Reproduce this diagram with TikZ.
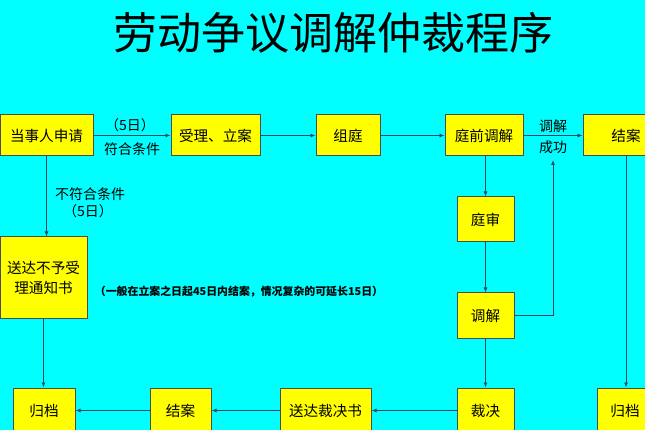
\documentclass[tikz,border=0pt]{standalone}
\usepackage{fontspec}
\setmainfont{Noto Sans CJK SC}
\usetikzlibrary{arrows.meta}
\definecolor{bgcyan}{RGB}{0,255,255}
\definecolor{boxyellow}{RGB}{255,255,0}
\definecolor{linedark}{RGB}{35,70,95}

\begin{document}
\begin{tikzpicture}[x=1pt,y=-1pt,
    box/.style={draw=black!70, fill=boxyellow, line width=1pt, inner sep=0pt,
      align=center, font=\fontsize{14.6}{20}\selectfont},
    lbl/.style={inner sep=0pt, font=\fontsize{14}{16}\selectfont},
    arr/.style={draw=linedark, line width=0.9pt, -{Latex[length=5pt,width=4pt]}}]
    \useasboundingbox (0,0) rectangle (645,430);
    \clip (0,0) rectangle (645,430);
    \fill[bgcyan] (0,0) rectangle (645,430);

    \node[inner sep=0pt, font=\fontsize{44}{48}\selectfont] (title) at (333,33) {劳动争议调解仲裁程序};

    % top row
    \node[box, minimum width=93pt, minimum height=41pt] (apply) at (46.5,135.5) {当事人申请};
    \node[box, minimum width=89pt, minimum height=41pt] (accept) at (215.5,135.5) {受理、立案};
    \node[box, minimum width=64pt, minimum height=41pt] (form) at (348,135.5) {组庭};
    \node[box, minimum width=78pt, minimum height=41pt] (premed) at (484,135.5) {庭前调解};
    \node[box, minimum width=86pt, minimum height=41pt] (closetop) at (626,135.5) {结案};

    % middle
    \node[box, minimum width=87pt, minimum height=81pt] (reject) at (43.5,277.5) {送达不予受\\理通知书};
    \node[box, minimum width=57pt, minimum height=45pt] (trial) at (485.5,219.5) {庭审};
    \node[box, minimum width=57pt, minimum height=45pt] (mediate) at (485.5,315.5) {调解};

    % bottom row
    \node[box, minimum width=57pt, minimum height=45pt] (award) at (485.5,410.5) {裁决};
    \node[box, minimum width=91pt, minimum height=45pt] (deliver) at (325.5,410.5) {送达裁决书};
    \node[box, minimum width=61pt, minimum height=45pt] (closebot) at (180.5,410.5) {结案};
    \node[box, minimum width=62pt, minimum height=45pt] (archleft) at (44,410.5) {归档};
    \node[box, minimum width=56pt, minimum height=45pt] (archright) at (625,410.5) {归档};

    \coordinate (succ) at (553,160);

    % labels
    \node[lbl] (fivea) at (130,125) {（5日）};
    \node[lbl] (meet) at (132,149) {符合条件};
    \node[lbl] (notmeet) at (90,194) {不符合条件};
    \node[lbl] (fiveb) at (88,211) {（5日）};
    \node[lbl] (medok) at (553,126) {调解};
    \node[lbl] (success) at (553,147) {成功};
    \node[inner sep=0pt, font=\bfseries\fontsize{10.9}{12}\selectfont] (note) at (239,292)
      {（一般在立案之日起45日内结案，情况复杂的可延长15日）};

    % connectors
    \draw[arr] (apply) -- (accept);
    \draw[arr] (accept) -- (form);
    \draw[arr] (form) -- (premed);
    \draw[arr] (premed) -- (closetop);
    \draw[arr] (apply.south) -- (apply.south |- reject.north);
    \draw[arr] (reject.south) -- (reject.south |- archleft.north);
    \draw[arr] (premed.south -| trial.north) -- (trial.north);
    \draw[arr] (trial) -- (mediate);
    \draw[arr] (mediate) -- (award);
    \draw[arr] (mediate.east) -| (succ);
    \draw[arr] (closetop.south) -- (closetop.south |- archright.north);
    \draw[arr] (award) -- (deliver);
    \draw[arr] (deliver) -- (closebot);
    \draw[arr] (closebot) -- (archleft);
  \end{tikzpicture}
\end{document}
